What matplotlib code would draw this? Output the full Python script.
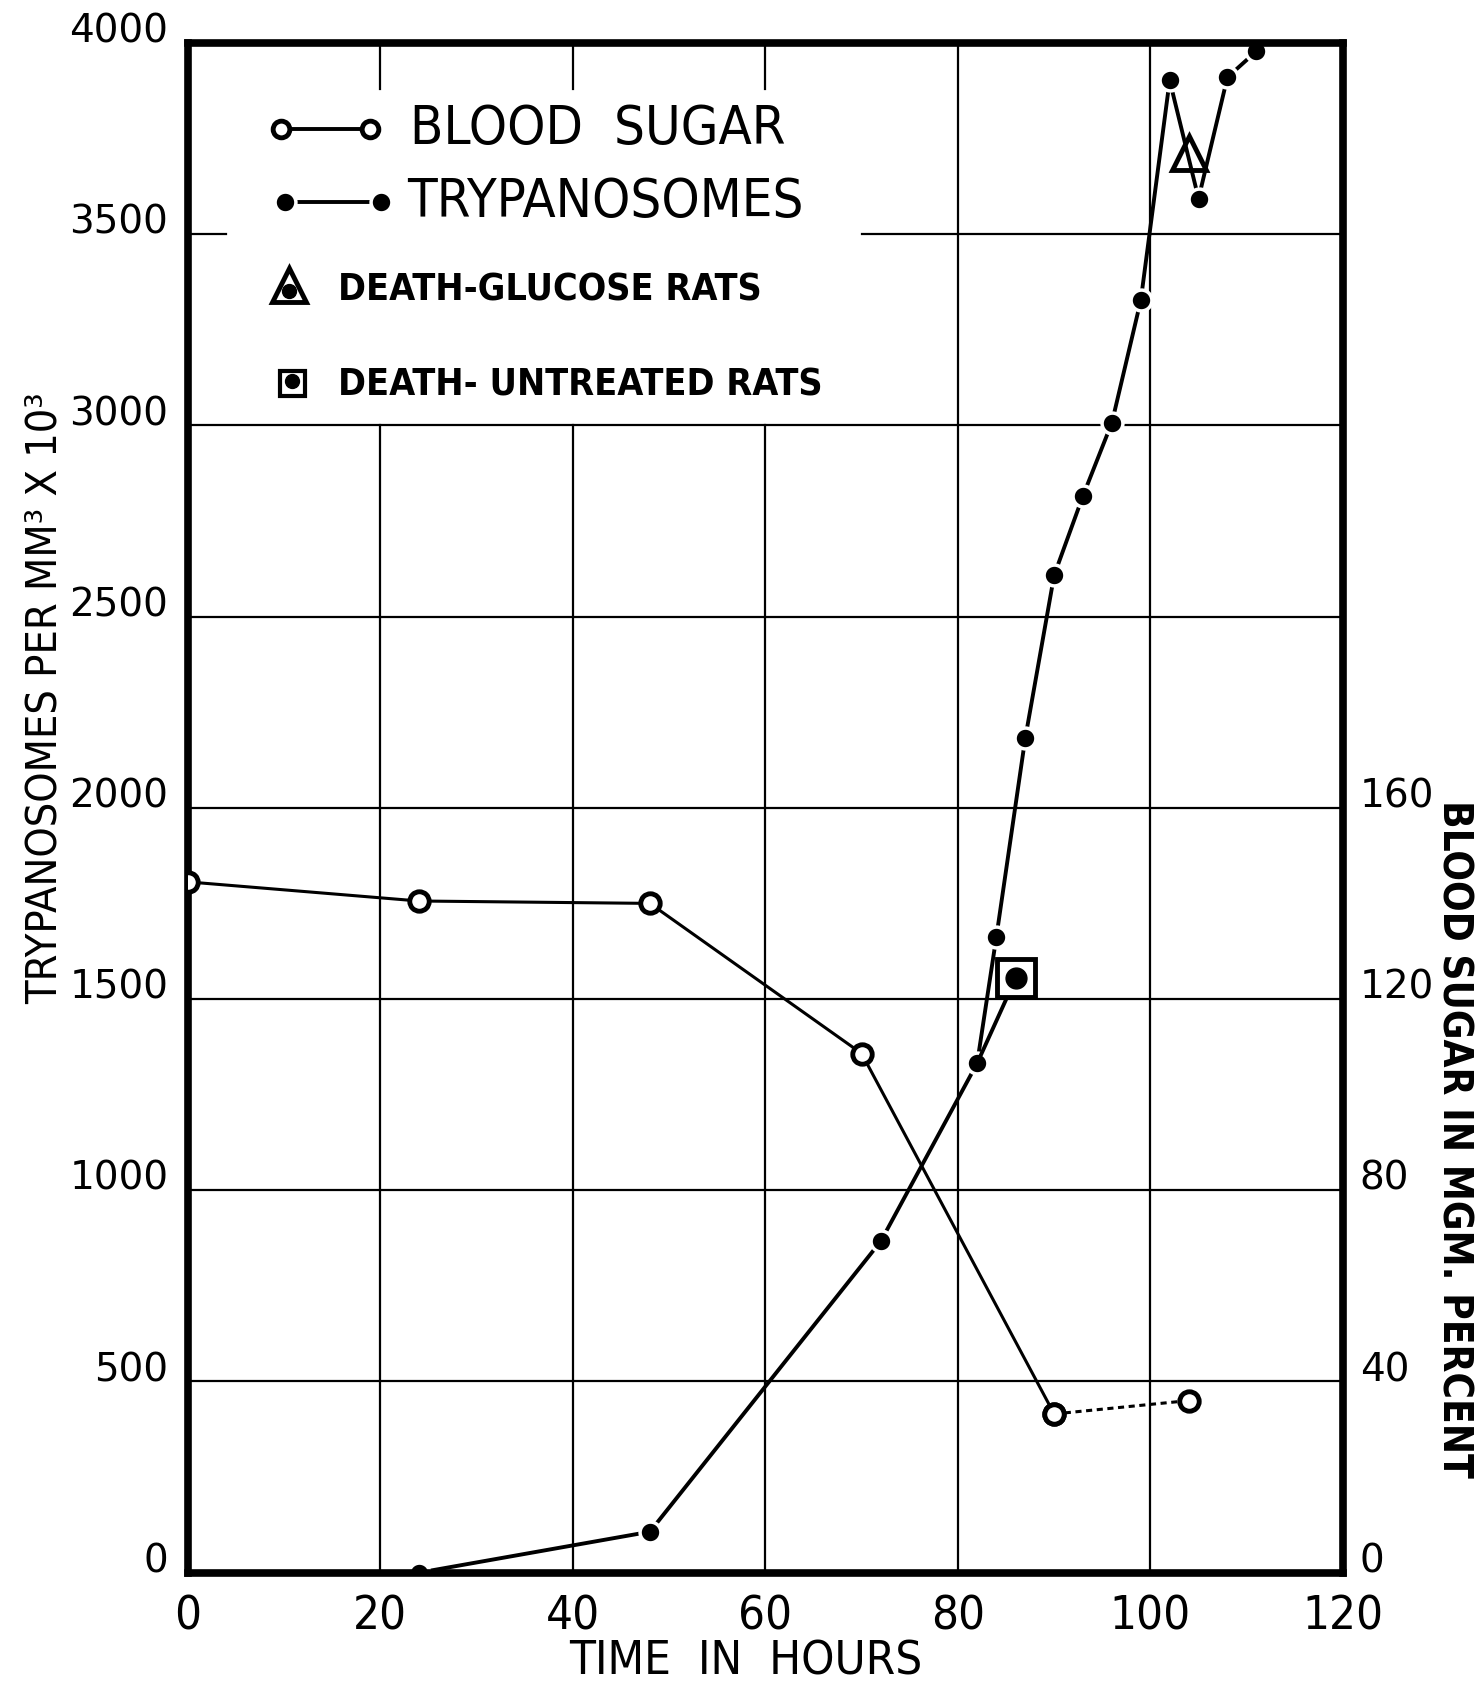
import matplotlib
matplotlib.use("Agg")
import matplotlib.pyplot as plt
import matplotlib.transforms as mtrans

# ---------------- data ----------------
sugar_hours = [0, 24, 48, 70, 90]
sugar_vals = [144.5, 140.5, 140.0, 108.6, 33.2]          # mg percent (right axis)
sugar_dash_hours = [90, 104]
sugar_dash_vals = [33.2, 36.0]

tryp_hours = [24, 48, 72, 82, 84, 87, 90, 93, 96, 99, 102, 105, 108, 111]
tryp_vals = [0, 107, 867, 1332, 1663, 2182, 2608, 2816, 3007, 3327, 3902, 3593, 3910, 3978]

untreated_hours = [82, 86]          # branch to death of untreated rats
untreated_vals = [1332, 1554]
glucose_death = (104, 3713)

x_ticks = [0, 20, 40, 60, 80, 100, 120]
left_ticks = [0, 500, 1000, 1500, 2000, 2500, 3000, 3500, 4000]
right_ticks = [0, 40, 80, 120, 160]

COND = dict(family="DejaVu Sans", fontstretch="condensed")

fig = plt.figure(figsize=(14.79, 16.82), dpi=100)
ax = fig.add_axes([0.127, 0.065, 0.781, 0.9095])
ax.set_xlim(0, 120)
ax.set_ylim(0, 4000)
for s in ax.spines.values():
    s.set_linewidth(5.5)
    s.set_zorder(10)

# grid lines (partly hidden by legend area)
gl = dict(color="black", lw=1.6, zorder=1)
for x in [20, 40, 60]:
    ax.plot([x, x], [0, 3000], **gl)
    ax.plot([x, x], [3880, 4000], **gl)
for x in [80, 100]:
    ax.plot([x, x], [0, 4000], **gl)
for y in [500, 1000, 1500, 2000, 2500, 3000]:
    ax.plot([0, 120], [y, y], **gl)
ax.plot([70, 120], [3500, 3500], **gl)
ax.plot([0, 4], [3500, 3500], **gl)

# ticks
ax.set_xticks(x_ticks)
ax.set_xticklabels([str(v) for v in x_ticks], fontsize=34, **COND)
ax.set_yticks(left_ticks)
ax.set_yticklabels([str(v) for v in left_ticks], fontsize=28, family="DejaVu Sans")
ax.tick_params(axis="x", length=0, pad=16)
ax.tick_params(axis="y", length=0, pad=14)
off = mtrans.ScaledTranslation(0, 11 / 72, fig.dpi_scale_trans)
for lab in ax.get_yticklabels():
    lab.set_transform(lab.get_transform() + off)

ax2 = ax.twinx()
ax2.set_ylim(0, 320)
ax2.set_yticks(right_ticks)
ax2.set_yticklabels([str(v) for v in right_ticks], fontsize=28, family="DejaVu Sans")
ax2.tick_params(axis="y", length=0, pad=12)
for lab in ax2.get_yticklabels():
    lab.set_transform(lab.get_transform() + off)
for s in ax2.spines.values():
    s.set_visible(False)

# trypanosomes
ax.plot(tryp_hours, tryp_vals, color="black", lw=2.8, zorder=4,
        marker="o", ms=15, mfc="black", mec="white", mew=2.5)
ax.plot(untreated_hours, untreated_vals, color="black", lw=2.8, zorder=4)
ax.plot([untreated_hours[-1]], [untreated_vals[-1]], marker="s", ms=27, mfc="white",
        mec="black", mew=3.5, zorder=5, ls="none")
ax.plot([untreated_hours[-1]], [untreated_vals[-1]], marker="o", ms=15, color="black",
        zorder=6, ls="none")
ax.plot([glucose_death[0]], [glucose_death[1]], marker="^", ms=24, mfc="none",
        mec="black", mew=3.5, zorder=6, ls="none")

# blood sugar (right axis)
ax2.plot(sugar_hours, sugar_vals, color="black", lw=2.2, zorder=4,
         marker="o", ms=14, mfc="white", mec="black", mew=3.5)
ax2.plot(sugar_dash_hours, sugar_dash_vals, color="black", lw=2.2, ls=(0, (2, 1.5)),
         zorder=4, marker="o", ms=14, mfc="white", mec="black", mew=3.5)

# legend drawn by hand
T = ax.transAxes
ax.plot([0.081, 0.158], [0.944, 0.944], transform=T, color="black", lw=2.8,
        marker="o", ms=12, mfc="white", mec="black", mew=3.5, clip_on=False, zorder=8)
ax.text(0.192, 0.944, "BLOOD  SUGAR", transform=T, fontsize=39, **COND,
        va="center", ha="left", zorder=8)
ax.plot([0.084, 0.167], [0.896, 0.896], transform=T, color="black", lw=2.8,
        marker="o", ms=15, mfc="black", mec="white", mew=2.5, clip_on=False, zorder=8)
ax.text(0.190, 0.896, "TRYPANOSOMES", transform=T, fontsize=39, **COND,
        va="center", ha="left", zorder=8)
ax.plot([0.088], [0.842], transform=T, marker="^", ms=24, mfc="white", mec="black",
        mew=3.5, clip_on=False, zorder=8)
ax.plot([0.088], [0.838], transform=T, marker="o", ms=10, color="black",
        clip_on=False, zorder=9)
ax.text(0.130, 0.838, "DEATH-GLUCOSE RATS", transform=T, fontsize=27, **COND,
        weight="bold", va="center", ha="left", zorder=8)
ax.plot([0.090], [0.778], transform=T, marker="s", ms=18, mfc="white", mec="black",
        mew=3, clip_on=False, zorder=8)
ax.plot([0.090], [0.779], transform=T, marker="o", ms=10, color="black",
        clip_on=False, zorder=9)
ax.text(0.130, 0.776, "DEATH- UNTREATED RATS", transform=T, fontsize=27, **COND,
        weight="bold", va="center", ha="left", zorder=8)

# axis titles
fig.text(0.504, 0.012, "TIME  IN  HOURS", fontsize=34, **COND,
         ha="center", va="center")
fig.text(0.030, 0.585, "TRYPANOSOMES PER MM³ X 10³", fontsize=31, **COND,
         rotation=90, ha="center", va="center")
fig.text(0.983, 0.323, "BLOOD SUGAR IN MGM. PERCENT", fontsize=29, **COND,
         weight="bold", rotation=-90, ha="center", va="center")

fig.savefig("out.png", dpi=100, facecolor="white")
